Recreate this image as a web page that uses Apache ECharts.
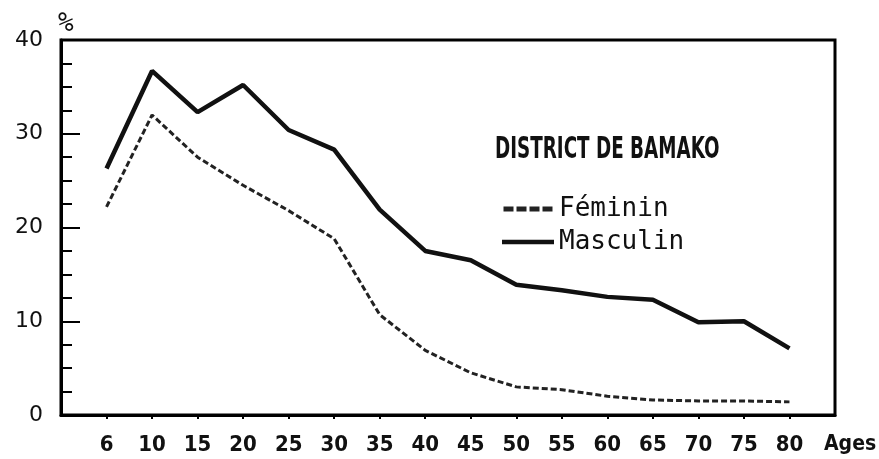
<!DOCTYPE html>
<html>
<head>
<meta charset="utf-8">
<script src="https://cdn.jsdelivr.net/npm/echarts@6/dist/echarts.min.js"></script>
<style>
  html, body { margin: 0; padding: 0; background: #fff; }
  #chart { width: 879px; height: 459px; }
</style>
</head>
<body>
<div id="chart"></div>
<script>
// tranches d'age
var ages = ['6', '10', '15', '20', '25', '30', '35', '40', '45', '50', '55', '60', '65', '70', '75', '80'];
var feminin = [22.2, 32.0, 27.5, 24.5, 21.8, 18.8, 10.7, 6.9, 4.5, 3.0, 2.7, 2.0, 1.6, 1.5, 1.5, 1.4];
var masculin = [26.3, 36.7, 32.3, 35.2, 30.4, 28.3, 21.9, 17.5, 16.5, 13.9, 13.3, 12.6, 12.3, 9.9, 10.0, 7.1];
var yTicks = [0, 10, 20, 30, 40];

var ageIdx = ages.map(function (a, i) { return i; });
function pairs(arr) {
    return arr.map(function (v, i) { return [i, v]; });
}

var monoFont = '"DejaVu Sans Mono", monospace';
var narrowFont = '"Liberation Sans Narrow", "DejaVu Sans Condensed", sans-serif';

// icones de legende : tirets / trait plein
var dashIcon = 'path://M0,0h10v5h-10Z M13,0h10v5h-10Z M26,0h10v5h-10Z M39,0h10v5h-10Z';
var solidIcon = 'path://M0,0h55v5h-55Z';

var option = {
    backgroundColor: '#fff',
    animation: false,
    grid: {
        left: 61,
        top: 40,
        right: 44,
        bottom: 44,
        outerBoundsMode: 'none',
        containLabel: false,
        show: true,
        borderColor: '#000',
        borderWidth: 3
    },
    legend: {
        orient: 'vertical',
        left: 497,
        top: 189,
        itemWidth: 52,
        itemHeight: 5,
        itemGap: 3,
        textStyle: {
            fontFamily: monoFont,
            fontSize: 26,
            lineHeight: 30,
            color: '#111'
        },
        data: [
            { name: 'Féminin', icon: dashIcon },
            { name: 'Masculin', icon: solidIcon }
        ]
    },
    graphic: [{
        type: 'text',
        left: 495,
        top: 136,
        scaleX: 0.97,
        scaleY: 1.4,
        style: {
            text: 'DISTRICT DE BAMAKO',
            font: 'bold 21px ' + narrowFont,
            fill: '#111'
        }
    }],
    xAxis: {
        type: 'value',
        min: -1,
        max: 16,
        interval: 1,
        name: 'Ages',
        nameLocation: 'end',
        nameGap: -11,
        nameTextStyle: {
            fontFamily: narrowFont,
            fontWeight: 'bold',
            fontSize: 21,
            color: '#111',
            align: 'left',
            verticalAlign: 'top',
            padding: [19, 0, 0, 0]
        },
        splitLine: { show: false },
        axisLine: { show: true, onZero: false, lineStyle: { color: '#000', width: 3 } },
        axisTick: {
            show: true,
            length: 4,
            customValues: ageIdx,
            lineStyle: { color: '#000', width: 2 }
        },
        axisLabel: {
            customValues: ageIdx,
            margin: 19,
            fontFamily: narrowFont,
            fontWeight: 'bold',
            fontSize: 22,
            color: '#111',
            formatter: function (v) { return ages[v]; }
        }
    },
    yAxis: {
        type: 'value',
        min: 0,
        max: 40,
        interval: 10,
        name: '%',
        nameLocation: 'end',
        nameGap: 3,
        nameTextStyle: {
            fontFamily: monoFont,
            fontSize: 26,
            color: '#111',
            align: 'left',
            padding: [0, 0, 0, -3]
        },
        splitLine: { show: false },
        axisLine: { show: true, onZero: false, lineStyle: { color: '#000', width: 3 } },
        axisTick: {
            show: true,
            inside: true,
            length: 19,
            lineStyle: { color: '#000', width: 2 }
        },
        minorTick: {
            show: true,
            splitNumber: 4,
            length: 11,
            lineStyle: { color: '#000', width: 2 }
        },
        axisLabel: {
            margin: 18,
            fontFamily: '"DejaVu Sans", sans-serif',
            fontSize: 22,
            color: '#111',
            customValues: yTicks
        }
    },
    series: [{
        name: 'Féminin',
        type: 'line',
        symbol: 'none',
        data: pairs(feminin),
        lineStyle: { color: '#222', width: 3, type: [6, 3] },
        itemStyle: { color: '#222' }
    }, {
        name: 'Masculin',
        type: 'line',
        symbol: 'none',
        data: pairs(masculin),
        lineStyle: { color: '#111', width: 4.5 },
        itemStyle: { color: '#111' }
    }]
};

var myChart = echarts.init(document.getElementById('chart'));
myChart.setOption(option);
</script>
</body>
</html>
